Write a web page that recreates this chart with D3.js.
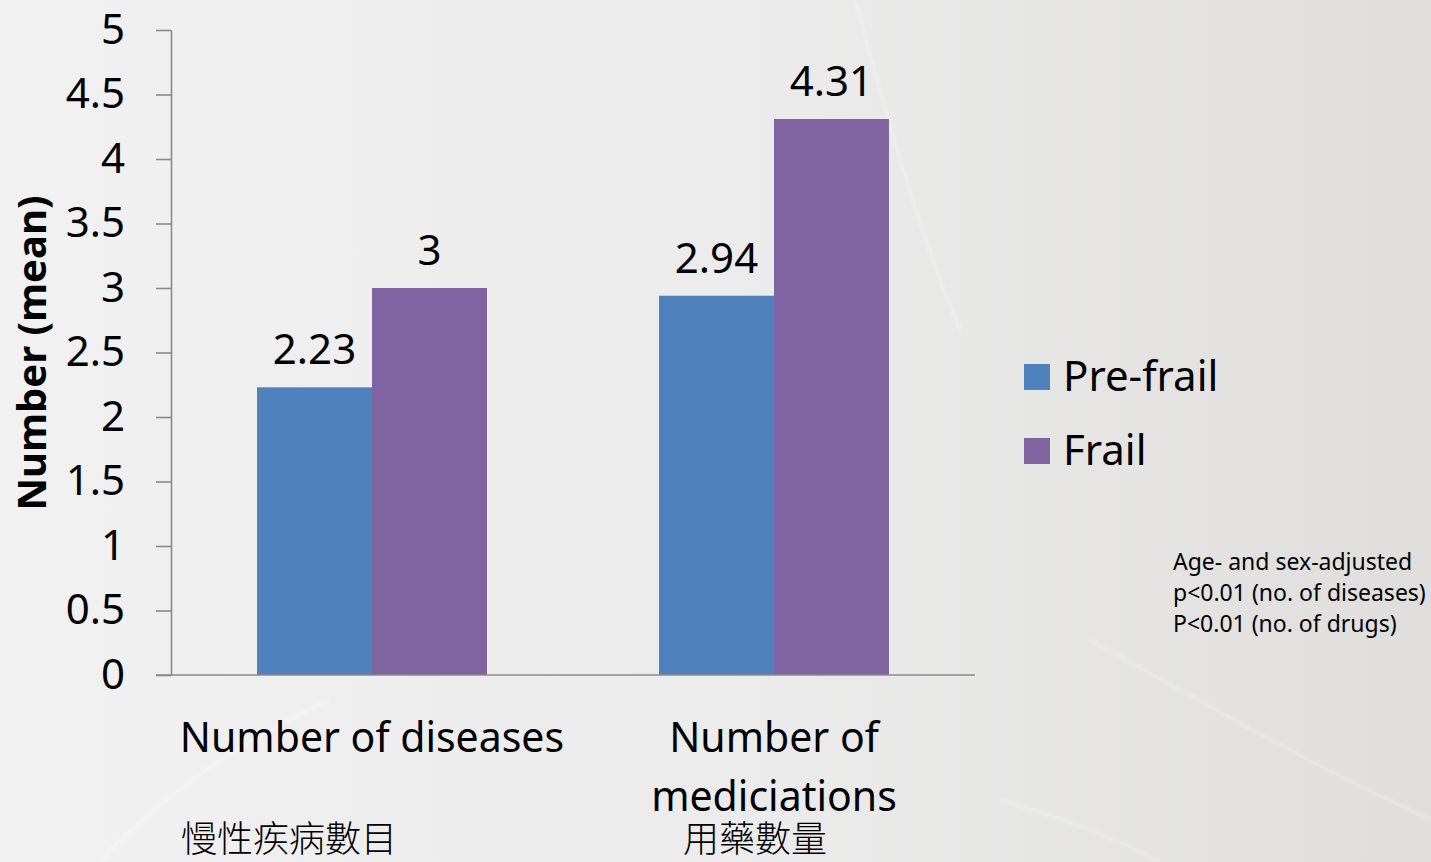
<!DOCTYPE html>
<html>
<head>
<meta charset="utf-8">
<script src="https://cdn.jsdelivr.net/npm/d3@7"></script>
<style>
  html, body { margin: 0; padding: 0; }
  body { width: 1431px; height: 862px; overflow: hidden; }
  svg { display: block; }
</style>
</head>
<body>
<svg id="chart" width="1431" height="862"></svg>
<script>
// Mean counts per frailty group
const categories = ["Number of diseases", "Number of mediciations"];
const categoryLines = [["Number of diseases"], ["Number of", "mediciations"]];
const categoryChinese = ["慢性疾病數目", "用藥數量"];
const seriesNames = ["Pre-frail", "Frail"];
const preFrail = [2.23, 2.94];
const frail = [3, 4.31];
const valueLabels = [["2.23", "2.94"], ["3", "4.31"]];
const yTicks = [0, 0.5, 1, 1.5, 2, 2.5, 3, 3.5, 4, 4.5, 5];
const yTickLabels = ["0", "0.5", "1", "1.5", "2", "2.5", "3", "3.5", "4", "4.5", "5"];
const notes = ["Age- and sex-adjusted", "p<0.01 (no. of diseases)", "P<0.01 (no. of drugs)"];

const colors = ["#4f81bd", "#8064a2"];
const seriesValues = [preFrail, frail];

const W = 1431, H = 862;
const plot = { left: 171, right: 975, top: 30, bottom: 675 };
const font = "'Noto Sans', 'Open Sans', sans-serif";

const svg = d3.select("#chart");

// Slide background: soft grey gradient with faint sweeping highlights
const defs = svg.append("defs");
const grad = defs.append("linearGradient").attr("id", "bg")
  .attr("x1", "0").attr("y1", "0").attr("x2", "1").attr("y2", "0");
grad.append("stop").attr("offset", "0").attr("stop-color", "#f1f1f1");
grad.append("stop").attr("offset", "0.55").attr("stop-color", "#ebebeb");
grad.append("stop").attr("offset", "1").attr("stop-color", "#dfdedc");
svg.append("rect").attr("width", W).attr("height", H).attr("fill", "url(#bg)");

const blur = defs.append("filter").attr("id", "soft");
blur.append("feGaussianBlur").attr("stdDeviation", 1.5);
const swirl = svg.append("g").attr("fill", "none").attr("stroke", "#ffffff")
  .attr("stroke-width", 2.5).attr("opacity", 0.3).attr("filter", "url(#soft)");
swirl.append("path").attr("d", "M855,0 C880,90 910,210 960,330");
swirl.append("path").attr("d", "M1000,800 C1070,820 1120,840 1160,862");
swirl.append("path").attr("d", "M100,860 C170,790 240,740 330,700");
swirl.append("path").attr("d", "M1090,640 C1200,700 1300,760 1431,820");

// Scales
const x0 = d3.scaleBand().domain(categories)
  .range([plot.left, plot.right]).paddingInner(0.428).paddingOuter(0.214);
const x1 = d3.scaleBand().domain(seriesNames).range([0, x0.bandwidth()]).padding(0);
const y = d3.scaleLinear().domain([0, 5]).range([plot.bottom, plot.top]);

// Bars
const groups = svg.append("g").selectAll("g")
  .data(categories).join("g")
  .attr("transform", d => `translate(${x0(d)},0)`);

groups.selectAll("rect")
  .data((c, ci) => seriesNames.map((s, si) => ({ s, si, v: seriesValues[si][ci] })))
  .join("rect")
  .attr("x", d => x1(d.s))
  .attr("y", d => y(d.v))
  .attr("width", x1.bandwidth())
  .attr("height", d => y(0) - y(d.v))
  .attr("fill", d => colors[d.si]);

groups.selectAll("text.val")
  .data((c, ci) => seriesNames.map((s, si) => ({ s, si, v: seriesValues[si][ci], label: valueLabels[si][ci] })))
  .join("text")
  .attr("class", "val")
  .attr("x", d => x1(d.s) + x1.bandwidth() / 2)
  .attr("y", d => y(d.v) - 23)
  .attr("text-anchor", "middle")
  .attr("font-family", font)
  .attr("font-size", 42)
  .attr("fill", "#000")
  .text(d => d.label);

// Y axis
const yAxis = d3.axisLeft(y).tickValues(yTicks)
  .tickFormat((d, i) => yTickLabels[i]).tickSize(15).tickPadding(31).tickSizeOuter(0);
const gy = svg.append("g").attr("transform", `translate(${plot.left},0)`).call(yAxis);
gy.select(".domain").attr("stroke", "#8a8a8a").attr("stroke-width", 1.6);
gy.selectAll(".tick line").attr("stroke", "#8a8a8a").attr("stroke-width", 1.6);
gy.selectAll(".tick text").attr("font-family", font).attr("font-size", 42).attr("fill", "#000");

// X axis baseline
svg.append("line")
  .attr("x1", plot.left - 15).attr("x2", plot.right)
  .attr("y1", y(0)).attr("y2", y(0))
  .attr("stroke", "#8a8a8a").attr("stroke-width", 1.6);

// Category labels
categories.forEach((c, i) => {
  const cx = x0(c) + x0.bandwidth() / 2;
  const t = svg.append("text")
    .attr("text-anchor", "middle")
    .attr("font-family", font)
    .attr("font-size", 41)
    .attr("fill", "#000");
  categoryLines[i].forEach((line, li) => {
    t.append("tspan").attr("x", cx).attr("y", 752 + li * 59).text(line);
  });
});

const zhX = [181, 683];
categoryChinese.forEach((c, i) => {
  svg.append("text")
    .attr("x", zhX[i]).attr("y", 852)
    .attr("font-family", "'Noto Sans CJK TC', 'Noto Sans CJK SC', sans-serif")
    .attr("font-weight", 300)
    .attr("font-size", 36)
    .attr("fill", "#000")
    .text(c);
});

// Y axis title
svg.append("text")
  .attr("transform", `translate(46,353) rotate(-90)`)
  .attr("text-anchor", "middle")
  .attr("font-family", font)
  .attr("font-weight", "bold")
  .attr("font-size", 40)
  .attr("fill", "#000")
  .text("Number (mean)");

// Legend
const legend = svg.append("g").attr("transform", "translate(1024,364)");
seriesNames.forEach((s, i) => {
  const g = legend.append("g").attr("transform", `translate(0,${i * 74})`);
  g.append("rect").attr("width", 26).attr("height", 26).attr("fill", colors[i]);
  g.append("text")
    .attr("x", 39).attr("y", 27)
    .attr("font-family", font)
    .attr("font-size", 42)
    .attr("fill", "#000")
    .text(s);
});

// Significance note
const note = svg.append("text")
  .attr("font-family", font)
  .attr("font-size", 23)
  .attr("fill", "#000");
notes.forEach((n, i) => {
  note.append("tspan").attr("x", 1173).attr("y", 570 + i * 31).text(n);
});
</script>
</body>
</html>
